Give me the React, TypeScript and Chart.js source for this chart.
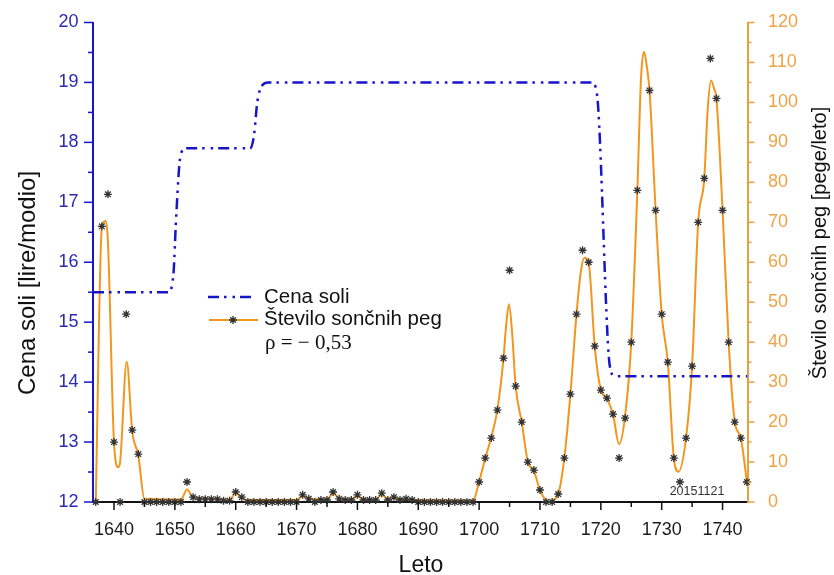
import React, { useEffect, useRef } from "react";
import { Chart, registerables } from "chart.js";

Chart.register(...registerables);

// ---------------- data ----------------
const FIRST_YEAR = 1637;
// yearly sunspot numbers (stars)
const SUNSPOTS = [
  0, 69, 77, 15, 0, 47, 18, 12, // 1637-1644
  0, 0, 0, 0, 0, 0, 0, // 1645-1651
  5, 1.2, 0.7, 0.7, 0.7, 0.7, 0.3, 0.3, // 1652-1659
  2.5, 1.2, 0, 0, 0, 0, 0, 0, 0, 0, 0, // 1660-1670
  1.8, 0.8, 0, 0.5, 0.5, 2.5, 0.8, 0.5, 0.5, // 1671-1679
  1.8, 0.5, 0.5, 0.5, 2.2, 0.5, 1.2, 0.5, 0.8, 0.5, // 1680-1689
  0, 0, 0, 0, 0, 0, 0, 0, 0, 0, // 1690-1699
  5, 11, 16, 23, 36, 58, 29, 20, 10, 8, // 1700-1709
  3, 0, 0, 2, 11, 27, 47, 63, 60, 39, // 1710-1719
  28, 26, 22, 11, 21, 40, 78, 122, 103, 73, // 1720-1729
  47, 35, 11, 5, 16, 34, 70, 81, 111, 101, // 1730-1739
  73, 40, 20, 16, 5, // 1740-1744
];

// smoothed sunspot curve (orange line)
const CURVE_YEARS = [
  1637, 1638, 1638.64, 1639, 1640, 1640.7, 1641, 1642.09, 1643, 1644, 1645,
  1651, 1652, 1653, 1657, 1659, 1660, 1661, 1662, 1670, 1671, 1672, 1675, 1676,
  1677, 1679, 1680, 1681, 1683, 1684, 1685, 1686, 1687, 1699,
  1700, 1701, 1702, 1703, 1704, 1704.4, 1704.9, 1705.45, 1706, 1707, 1708, 1709,
  1710, 1711, 1711.5, 1712, 1713, 1714, 1715, 1716, 1716.7, 1717.3, 1718, 1719,
  1720, 1721, 1722, 1723, 1724, 1725, 1726, 1726.6, 1727.1, 1727.6, 1728, 1729,
  1730, 1731, 1732, 1732.75, 1734, 1735, 1736, 1737, 1737.55, 1738.1, 1738.6,
  1739, 1740, 1741, 1742, 1743, 1744,
];
const CURVE_VALUES = [
  0, 68.6, 70.3, 65.3, 15, 8.7, 9.9, 35.1, 17.7, 11.6, 0.8,
  0.6, 3.1, 1.2, 0.8, 0.5, 2.3, 1, 0.5, 0.5, 1.5, 0.8, 0.6, 2.2,
  0.9, 0.6, 1.5, 0.6, 0.6, 1.9, 0.7, 1.1, 0.6, 0.3,
  5.1, 10.9, 16.2, 23.1, 35.9, 43.5, 49.5, 41.8, 29, 20, 10.1, 7.8,
  3, 0.4, 0, 0.4, 2, 11, 27, 47, 57.5, 61.1, 59.8, 38.9,
  28.1, 25.9, 21.9, 14.5, 21.7, 40, 78, 106, 112.7, 108.5, 103, 73,
  47, 35.1, 10.9, 7.6, 16, 34.1, 70.1, 81, 98, 105.5, 103.5,
  100.9, 73, 40, 20.2, 16, 5.1,
];

// salt price (blue dash-dot-dot line)
const PRICE_YEARS = [
  1636.55, 1648.9, 1649.75, 1650.2, 1650.85, 1651.7, 1662.35, 1663.0, 1663.55,
  1664.27, 1665.36, 1718.5, 1719.33, 1721.5, 1722.33, 1744.1,
];
const PRICE_VALUES = [
  15.5, 15.5, 15.78, 16.72, 17.72, 17.9, 17.9, 18.11, 18.67,
  18.94, 19.0, 19.0, 18.83, 14.25, 14.1, 14.1,
];

const X_TICKS = [1640, 1650, 1660, 1670, 1680, 1690, 1700, 1710, 1720, 1730, 1740];
const LEFT_TICKS = [12, 13, 14, 15, 16, 17, 18, 19, 20];
const RIGHT_TICKS = [0, 10, 20, 30, 40, 50, 60, 70, 80, 90, 100, 110, 120];

const PRICE_LABEL = "Cena soli";
const SPOT_LABEL = "Število sončnih peg";
const RHO_TEXT = "ρ = − 0,53";
const X_TITLE = "Leto";
const LEFT_TITLE = "Cena soli [lire/modio]";
const RIGHT_TITLE = "Število sončnih peg [pege/leto]";
const STAMP = "20151121";

// ---------------- styles ----------------
const SANS = "'Liberation Sans', Arial, sans-serif";
const SERIF = "'Liberation Serif', 'Times New Roman', serif";
const BLUE = "#1616c8";
const BLUE_TXT = "#2a2ab4";
const ORANGE = "#f2961e";
const ORANGE_AXIS = "#e9a040";
const ORANGE_TXT = "#efa347";
const STAR = "#333333";
const DASH = [11, 5, 2.5, 6, 2.5, 5];

function drawStar(ctx: CanvasRenderingContext2D, x: number, y: number, r: number) {
  const d = r * Math.SQRT1_2;
  ctx.beginPath();
  ctx.moveTo(x - r, y);
  ctx.lineTo(x + r, y);
  ctx.moveTo(x, y - r);
  ctx.lineTo(x, y + r);
  ctx.moveTo(x - d, y - d);
  ctx.lineTo(x + d, y + d);
  ctx.moveTo(x - d, y + d);
  ctx.lineTo(x + d, y - d);
  ctx.stroke();
}

const decorPlugin = {
  id: "decor",
  afterDraw(chart: any) {
    const { ctx, chartArea: a, scales } = chart;
    const sx = scales.x;
    const sl = scales.y;
    const sr = scales.y1;
    ctx.save();
    const seg = (x1: number, y1: number, x2: number, y2: number) => {
      ctx.beginPath();
      ctx.moveTo(x1, y1);
      ctx.lineTo(x2, y2);
      ctx.stroke();
    };
    // x ticks
    ctx.lineWidth = 1.5;
    ctx.strokeStyle = "#111";
    X_TICKS.forEach((v, i) => {
      const p = sx.getPixelForValue(v);
      seg(p, a.bottom, p, a.bottom + 8);
      if (i < X_TICKS.length - 1) {
        const m = sx.getPixelForValue((v + X_TICKS[i + 1]) / 2);
        seg(m, a.bottom, m, a.bottom + 5);
      }
    });
    // left ticks
    ctx.strokeStyle = BLUE;
    LEFT_TICKS.forEach((v, i) => {
      const p = sl.getPixelForValue(v);
      seg(a.left, p, a.left - 9, p);
      if (i < LEFT_TICKS.length - 1) {
        const m = sl.getPixelForValue((v + LEFT_TICKS[i + 1]) / 2);
        seg(a.left, m, a.left - 5, m);
      }
    });
    // right ticks
    ctx.strokeStyle = ORANGE_AXIS;
    RIGHT_TICKS.forEach((v, i) => {
      const p = sr.getPixelForValue(v);
      seg(a.right, p, a.right + 7, p);
      if (i < RIGHT_TICKS.length - 1) {
        const m = sr.getPixelForValue((v + RIGHT_TICKS[i + 1]) / 2);
        seg(a.right, m, a.right + 4, m);
      }
    });

    // axis titles
    ctx.fillStyle = "#111";
    ctx.textAlign = "center";
    ctx.textBaseline = "middle";
    ctx.font = `23px ${SANS}`;
    ctx.fillText(X_TITLE, 421, 566);

    ctx.save();
    ctx.translate(28, 283);
    ctx.rotate(-Math.PI / 2);
    ctx.font = `24px ${SANS}`;
    ctx.fillText(LEFT_TITLE, 0, 0);
    ctx.restore();

    ctx.save();
    ctx.translate(820, 243);
    ctx.rotate(-Math.PI / 2);
    ctx.font = `20px ${SANS}`;
    ctx.fillText(RIGHT_TITLE, 0, 0);
    ctx.restore();

    // stamp
    ctx.fillStyle = "#333";
    ctx.font = `12.5px ${SANS}`;
    ctx.fillText(STAMP, 697, 492);

    // legend
    ctx.textAlign = "left";
    ctx.lineWidth = 2.5;
    ctx.strokeStyle = BLUE;
    ctx.setLineDash(DASH);
    seg(208, 297, 256, 297);
    ctx.setLineDash([]);
    ctx.lineWidth = 2;
    ctx.strokeStyle = ORANGE;
    seg(209, 320, 258, 320);
    ctx.strokeStyle = STAR;
    ctx.lineWidth = 1.3;
    drawStar(ctx, 233, 320, 4);
    ctx.fillStyle = "#111";
    ctx.font = `20.5px ${SANS}`;
    ctx.fillText(PRICE_LABEL, 264, 297);
    ctx.fillText(SPOT_LABEL, 264, 319);
    ctx.font = `21px ${SERIF}`;
    ctx.fillText(RHO_TEXT, 265, 343);
    ctx.restore();
  },
};

const noVerticalPadding = (s: any) => {
  s.paddingTop = 0;
  s.paddingBottom = 0;
};

export default function App() {
  const ref = useRef<HTMLCanvasElement | null>(null);
  useEffect(() => {
    if (!ref.current) return;
    const spotPoints = SUNSPOTS.map((v, i) => ({ x: FIRST_YEAR + i, y: v }));
    const curvePoints = CURVE_YEARS.map((x, i) => ({ x, y: CURVE_VALUES[i] }));
    const pricePoints = PRICE_YEARS.map((x, i) => ({ x, y: PRICE_VALUES[i] }));
    const chart = new Chart(ref.current, {
      type: "line",
      data: {
        datasets: [
          {
            type: "scatter",
            label: SPOT_LABEL + " (leto)",
            data: spotPoints,
            yAxisID: "y1",
            showLine: false,
            pointStyle: "star",
            pointRadius: 4,
            pointBorderWidth: 1.3,
            pointBorderColor: STAR,
            pointBackgroundColor: STAR,
            clip: { left: 8, right: 8, top: 0, bottom: 8 },
            order: 0,
          } as any,
          {
            label: PRICE_LABEL,
            data: pricePoints,
            yAxisID: "y",
            borderColor: BLUE,
            borderWidth: 2.5,
            borderDash: DASH,
            pointRadius: 0,
            cubicInterpolationMode: "monotone",
            tension: 0.4,
            fill: false,
            order: 1,
          },
          {
            label: SPOT_LABEL,
            data: curvePoints,
            yAxisID: "y1",
            borderColor: ORANGE,
            borderWidth: 2,
            pointRadius: 0,
            cubicInterpolationMode: "monotone",
            tension: 0.4,
            fill: false,
            order: 2,
          },
        ],
      },
      options: {
        responsive: false,
        animation: false,
        layout: { padding: { top: 22.5, left: 0, right: 0, bottom: 0 } },
        plugins: {
          legend: { display: false },
          tooltip: { enabled: false },
        },
        scales: {
          x: {
            type: "linear",
            position: "bottom",
            min: 1636.55,
            max: 1744.1,
            grid: { display: false, drawTicks: false },
            border: { display: true, color: "#111", width: 2 },
            afterBuildTicks: (s: any) => {
              s.ticks = X_TICKS.map((v) => ({ value: v }));
            },
            afterFit: (s: any) => {
              s.height = 73;
            },
            ticks: {
              padding: 17,
              color: "#1a1a1a",
              font: { family: SANS, size: 18 },
              maxRotation: 0,
              autoSkip: false,
              callback: (v: any) => String(v),
            },
          },
          y: {
            type: "linear",
            position: "left",
            min: 12,
            max: 20,
            grid: { display: false, drawTicks: false },
            border: { display: true, color: BLUE, width: 2 },
            afterBuildTicks: (s: any) => {
              s.ticks = LEFT_TICKS.map((v) => ({ value: v }));
            },
            afterFit: (s: any) => {
              s.width = 93;
              noVerticalPadding(s);
            },
            ticks: {
              padding: 14.5,
              color: BLUE_TXT,
              font: { family: SANS, size: 18 },
              autoSkip: false,
              callback: (v: any) => String(v),
            },
          },
          y1: {
            type: "linear",
            position: "right",
            min: 0,
            max: 120,
            grid: { display: false, drawTicks: false },
            border: { display: true, color: ORANGE_AXIS, width: 2 },
            afterBuildTicks: (s: any) => {
              s.ticks = RIGHT_TICKS.map((v) => ({ value: v }));
            },
            afterFit: (s: any) => {
              s.width = 86.5;
              noVerticalPadding(s);
            },
            ticks: {
              padding: 20.5,
              color: ORANGE_TXT,
              font: { family: SANS, size: 18 },
              autoSkip: false,
              callback: (v: any) => String(v),
            },
          },
        },
      },
      plugins: [decorPlugin as any],
    });
    return () => chart.destroy();
  }, []);
  return (
    <canvas
      ref={ref}
      width={834}
      height={575}
      style={{ position: "absolute", left: 0, top: 0, display: "block", background: "#fff" }}
    />
  );
}
